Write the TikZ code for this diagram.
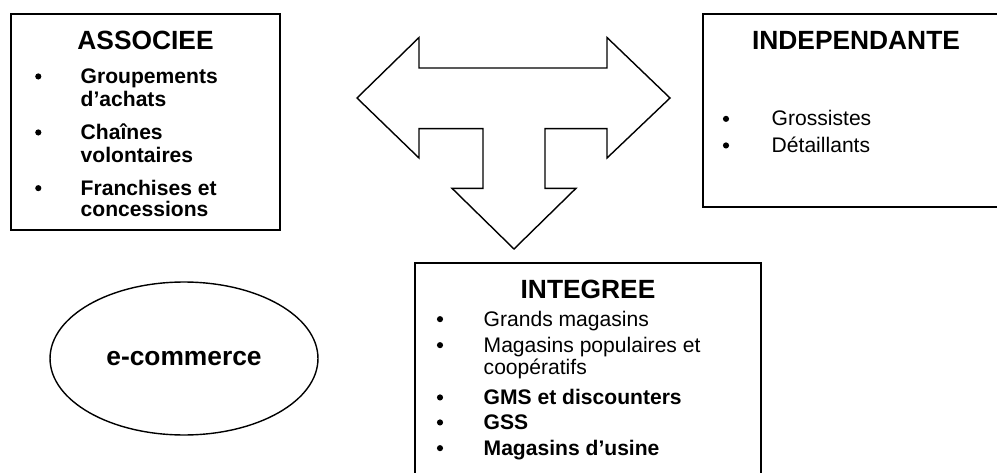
\documentclass[tikz,border=0pt]{standalone}
\usepackage{fontspec}
\setmainfont{Liberation Sans}
\usetikzlibrary{shapes.geometric}

\begin{document}
\begin{tikzpicture}[x=0.02cm,y=-0.02cm,line width=0.8pt,
	titolo/.style={anchor=base,inner sep=0pt,font=\fontsize{15}{18}\selectfont\bfseries},
	voce/.style={anchor=base west,inner sep=0pt,font=\fontsize{12}{14}\selectfont},
	voceb/.style={voce,font=\fontsize{12}{14}\selectfont\bfseries},
	punto/.style={circle,fill,inner sep=0pt,minimum size=3.5pt,yshift=3.9pt}]
	%\draw [help lines] (0,0) grid (997,473);
	\useasboundingbox (0,0) rectangle (997,473);
	
	%ASSOCIEE
	\draw (11,14) rectangle (280,230);
	\node[titolo] (assoc) at (145.5,50) {ASSOCIEE};
	\node[punto] (pa1) at (38.3,83.3) {};
	\node[voceb] (a1) at (80,83.3) {Groupements};
	\node[voceb] (a2) at (80,106.7) {d’achats};
	\node[punto] (pa2) at (38.3,139.3) {};
	\node[voceb] (a3) at (80,139.3) {Chaînes};
	\node[voceb] (a4) at (80,162.3) {volontaires};
	\node[punto] (pa3) at (38.3,195) {};
	\node[voceb] (a5) at (80,195) {Franchises et};
	\node[voceb] (a6) at (80,216.7) {concessions};
	
	%INDEPENDANTE
	\draw (703,14) rectangle (1010,207);
	\node[titolo] (indep) at (856,50) {INDEPENDANTE};
	\node[punto] (pi1) at (726,125.7) {};
	\node[voce] (i1) at (771,125.7) {Grossistes};
	\node[punto] (pi2) at (726,152.3) {};
	\node[voce] (i2) at (771,152.3) {Détaillants};
	
	%FRECCIA
	\draw[line join=miter] (357,98) -- (419,37.5) -- (419,68) -- (607,68) -- (607,37.5)
		-- (670,98) -- (607,158) -- (607,128.7) -- (545,128.7) -- (545,188.3)
		-- (576,188.3) -- (514,249) -- (452,188.3) -- (483,188.3) -- (483,128.7)
		-- (419,128.7) -- (419,158) -- cycle;
	
	%INTEGREE
	\draw (415,263) rectangle (761,490);
	\node[titolo] (integ) at (588,298.3) {INTEGREE};
	\node[punto] (pg1) at (440,326) {};
	\node[voce] (g1) at (483,326) {Grands magasins};
	\node[punto] (pg2) at (440,352) {};
	\node[voce] (g2) at (483,352) {Magasins populaires et};
	\node[voce] (g3) at (483,374.3) {coopératifs};
	\node[punto] (pg3) at (440,404.3) {};
	\node[voceb] (g4) at (483,404.3) {GMS et discounters};
	\node[punto] (pg4) at (440,429.3) {};
	\node[voceb] (g5) at (483,429.3) {GSS};
	\node[punto] (pg5) at (440,455) {};
	\node[voceb] (g6) at (483,455) {Magasins d’usine};
	
	%E-COMMERCE
	\node[draw,ellipse,inner sep=0pt,minimum width=5.36cm,minimum height=3.06cm,
		font=\fontsize{15}{18}\selectfont\bfseries] (ecom) at (184,358.5) {e-commerce};
	
\end{tikzpicture}
\end{document}
